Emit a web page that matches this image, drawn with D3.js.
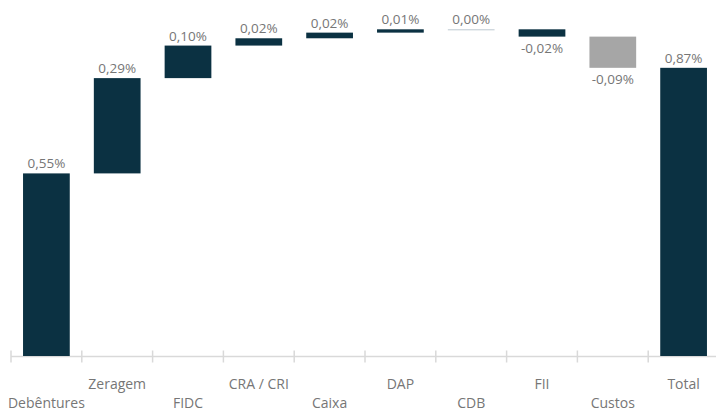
<!DOCTYPE html>
<html>
<head>
<meta charset="utf-8">
<script src="https://cdn.jsdelivr.net/npm/d3@7"></script>
<style>
  body { margin: 0; background: #fff; }
  text { font-family: "Open Sans", sans-serif; }
</style>
</head>
<body>
<div class="chart"></div>
<script>
var svgWidth = 716;
var svgHeight = 412;

// waterfall steps (in %), total is the running sum
var categories = ["Debêntures", "Zeragem", "FIDC", "CRA / CRI", "Caixa", "DAP", "CDB", "FII", "Custos", "Total"];
var values = [0.55, 0.287, 0.098, 0.022, 0.017, 0.01, 0.0, -0.022, -0.094];

var dark = "#0b3142";
var grey = "#a6a6a6";
var textColor = "#767676";

var svg = d3.select(".chart")
  .append("svg")
  .attr("width", svgWidth)
  .attr("height", svgHeight);

// build start / end of each step
var run = 0;
var steps = values.map(function(v, i) {
  var s = { name: categories[i], value: v, start: run, end: run + v };
  run += v;
  return s;
});
steps.push({ name: "Total", value: run, start: 0, end: run, total: true });

var x = d3.scaleBand()
  .domain(categories)
  .range([11, 719])
  .paddingInner(0.34)
  .paddingOuter(0.17);

var y = d3.scaleLinear()
  .domain([0, 1])
  .range([356, 24]);

var fmt = d3.format(".2f");
function pct(v) {
  // plain hyphen for negatives, comma decimal
  return fmt(v).replace("\u2212", "-").replace(".", ",").replace("-0,00", "0,00") + "%";
}

// axis line + ticks at band boundaries
var axisY = 356.5;
svg.append("line")
  .attr("x1", x.range()[0]).attr("x2", x.range()[1])
  .attr("y1", axisY).attr("y2", axisY)
  .attr("stroke", "#d9d9d9").attr("stroke-width", 1.5);

svg.selectAll(".tick")
  .data(d3.range(categories.length + 1))
  .enter()
  .append("line")
  .attr("x1", i => x.range()[0] + i * x.step())
  .attr("x2", i => x.range()[0] + i * x.step())
  .attr("y1", axisY - 6).attr("y2", axisY + 6)
  .attr("stroke", "#d9d9d9").attr("stroke-width", 1.5);

// bars
svg.selectAll(".bar")
  .data(steps.filter(d => d.value !== 0))
  .enter()
  .append("rect")
  .attr("x", d => x(d.name))
  .attr("width", x.bandwidth())
  .attr("y", d => y(Math.max(d.start, d.end)))
  .attr("height", d => Math.abs(y(d.start) - y(d.end)))
  .attr("fill", d => d.name === "Custos" ? grey : dark);

// zero step drawn as a thin line
svg.selectAll(".zero")
  .data(steps.filter(d => d.value === 0))
  .enter()
  .append("line")
  .attr("x1", d => x(d.name))
  .attr("x2", d => x(d.name) + x.bandwidth())
  .attr("y1", d => y(d.end) + 0.5)
  .attr("y2", d => y(d.end) + 0.5)
  .attr("stroke", "#bcc8d0")
  .attr("stroke-width", 1);

// value labels
svg.selectAll(".val")
  .data(steps)
  .enter()
  .append("text")
  .attr("x", d => x(d.name) + x.bandwidth() / 2)
  .attr("y", d => d.value < 0 ? y(d.end) + 16 : y(d.end) - 5)
  .attr("text-anchor", "middle")
  .attr("font-size", "13.5px")
  .attr("fill", textColor)
  .text(d => pct(d.value));

// category labels, alternating rows
svg.selectAll(".cat")
  .data(categories)
  .enter()
  .append("text")
  .attr("x", d => x(d) + x.bandwidth() / 2)
  .attr("y", (d, i) => i % 2 === 0 ? 408 : 389)
  .attr("text-anchor", "middle")
  .attr("font-size", "14px")
  .attr("fill", textColor)
  .text(d => d)
  .each(function() {
    // keep the label inside the left edge
    var box = this.getBBox();
    if (box.x < 1) d3.select(this).attr("x", +d3.select(this).attr("x") + (1 - box.x));
  });
</script>
</body>
</html>
